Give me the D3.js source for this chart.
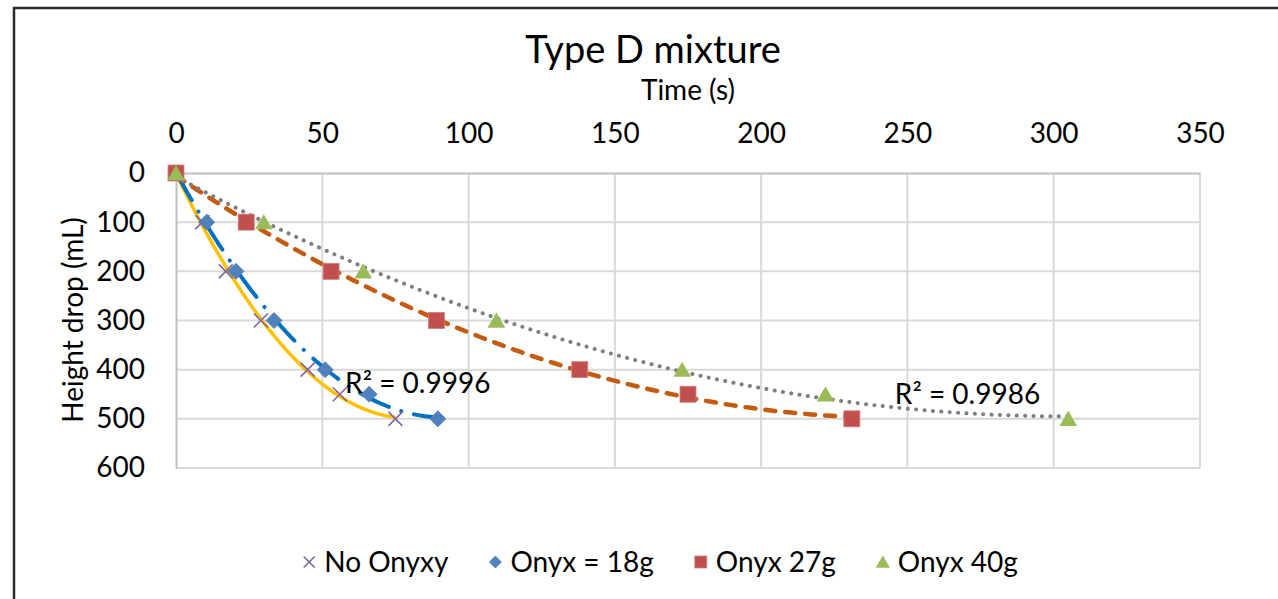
<!DOCTYPE html>
<html>
<head>
<meta charset="utf-8">
<script src="https://cdn.jsdelivr.net/npm/d3@7"></script>
<style>
body { margin: 0; background: #fff; }
svg text { font-family: Lato, "Open Sans", sans-serif; fill: #000; }
</style>
</head>
<body>
<svg id="chart" width="1278" height="599"></svg>
<script>
// values
var heightDrop = [0, 100, 200, 300, 400, 450, 500];
var timeNoOnyx = [0, 9, 17, 29, 45, 56, 75];
var timeOnyx18 = [0, 10.5, 20.5, 33.5, 51, 66, 89.5];
var timeOnyx27 = [0, 24, 53, 89, 138, 175, 231];
var timeOnyx40 = [0, 30, 64, 109.5, 173, 222, 305];
var seriesNames = ["No Onyxy", "Onyx = 18g", "Onyx 27g", "Onyx 40g"];
var xTicks = [0, 50, 100, 150, 200, 250, 300, 350];
var yTicks = [0, 100, 200, 300, 400, 500, 600];
var r2Labels = ["R\u00b2 = 0.9996", "R\u00b2 = 0.9986"];

var series = [
    {name: seriesNames[0], xs: timeNoOnyx, marker: "x", color: "#8064A2",
     trend: {color: "#FFC000", dash: null, width: 3.5}},
    {name: seriesNames[1], xs: timeOnyx18, marker: "diamond", color: "#4F81BD",
     trend: {color: "#0070C0", dash: "32,13,0.1,13", width: 4}},
    {name: seriesNames[2], xs: timeOnyx27, marker: "square", color: "#C0504D",
     trend: {color: "#C55A11", dash: "10,10", width: 4.5}},
    {name: seriesNames[3], xs: timeOnyx40, marker: "triangle", color: "#9BBB59",
     trend: {color: "#7F7F7F", dash: "0.1,8.3", width: 4}}
];

var svg = d3.select("#chart");

var x = d3.scaleLinear().domain([0, 350]).range([176, 1200]);
var y = d3.scaleLinear().domain([0, 600]).range([173, 468]);

// chart area border (only left and top visible)
svg.append("rect")
    .attr("x", 14).attr("y", 8)
    .attr("width", 1300).attr("height", 620)
    .attr("fill", "none")
    .attr("stroke", "#2b2b2b")
    .attr("stroke-width", 2.5);

// gridlines
svg.append("g").selectAll("line")
    .data(xTicks.slice(1))
    .enter().append("line")
    .attr("x1", function(d) { return x(d); })
    .attr("x2", function(d) { return x(d); })
    .attr("y1", y(0)).attr("y2", y(600))
    .attr("stroke", "#d9d9d9").attr("stroke-width", 2);

svg.append("g").selectAll("line")
    .data(yTicks.slice(1))
    .enter().append("line")
    .attr("y1", function(d) { return y(d); })
    .attr("y2", function(d) { return y(d); })
    .attr("x1", x(0)).attr("x2", x(350))
    .attr("stroke", "#d9d9d9").attr("stroke-width", 2);

// axes
var xAxis = svg.append("g")
    .attr("transform", "translate(0," + y(0) + ")")
    .call(d3.axisTop(x).tickValues(xTicks).tickSize(0).tickPadding(30));
var yAxis = svg.append("g")
    .attr("transform", "translate(" + x(0) + ",0)")
    .call(d3.axisLeft(y).tickValues(yTicks).tickSize(0).tickPadding(31));

[xAxis, yAxis].forEach(function(ax) {
    ax.select(".domain").attr("stroke", "#bfbfbf").attr("stroke-width", 2);
    ax.selectAll("text")
        .style("font-family", "Lato, sans-serif")
        .style("font-size", "28px")
        .attr("fill", "#000");
});

// titles
svg.append("text")
    .attr("x", 653).attr("y", 63)
    .attr("text-anchor", "middle")
    .style("font-size", "38px")
    .text("Type D mixture");

svg.append("text")
    .attr("x", 688).attr("y", 100)
    .attr("text-anchor", "middle")
    .style("font-size", "28px")
    .text("Time (s)");

svg.append("text")
    .attr("transform", "translate(83,320) rotate(-90)")
    .attr("text-anchor", "middle")
    .style("font-size", "28px")
    .text("Height drop (mL)");

// quadratic least squares trendline
function polyFit2(xs, ys) {
    var s = [0, 0, 0, 0, 0], t = [0, 0, 0];
    xs.forEach(function(xv, i) {
        var p = 1;
        for (var k = 0; k < 5; k++) {
            s[k] += p;
            if (k < 3) t[k] += p * ys[i];
            p *= xv;
        }
    });
    function det(m) {
        return m[0][0] * (m[1][1] * m[2][2] - m[1][2] * m[2][1])
             - m[0][1] * (m[1][0] * m[2][2] - m[1][2] * m[2][0])
             + m[0][2] * (m[1][0] * m[2][1] - m[1][1] * m[2][0]);
    }
    var M = [[s[0], s[1], s[2]], [s[1], s[2], s[3]], [s[2], s[3], s[4]]];
    var D = det(M);
    var coef = [0, 1, 2].map(function(c) {
        var m = M.map(function(row, r) {
            return row.map(function(v, j) { return j === c ? t[r] : v; });
        });
        return det(m) / D;
    });
    return function(xv) { return coef[0] + coef[1] * xv + coef[2] * xv * xv; };
}

var line = d3.line()
    .x(function(d) { return x(d[0]); })
    .y(function(d) { return y(d[1]); });

var trendG = svg.append("g");
series.forEach(function(s) {
    var f = polyFit2(s.xs, heightDrop);
    var xmax = d3.max(s.xs);
    var pts = d3.range(0, 101).map(function(i) {
        var xv = xmax * i / 100;
        return [xv, f(xv)];
    });
    trendG.append("path")
        .datum(pts)
        .attr("d", line)
        .attr("fill", "none")
        .attr("stroke", s.trend.color)
        .attr("stroke-width", s.trend.width)
        .attr("stroke-linecap", s.trend.dash ? "round" : "butt")
        .attr("stroke-dasharray", s.trend.dash);
});

// markers
function drawMarker(g, type, color, size) {
    var r = size / 2;
    if (type === "x") {
        g.append("path")
            .attr("d", "M" + (-r) + "," + (-r) + "L" + r + "," + r + "M" + r + "," + (-r) + "L" + (-r) + "," + r)
            .attr("stroke", color).attr("stroke-width", 1.6).attr("fill", "none");
    } else if (type === "diamond") {
        g.append("path")
            .attr("d", "M0," + (-r) + "L" + r + ",0L0," + r + "L" + (-r) + ",0Z")
            .attr("fill", color).attr("stroke", "#4a7ab3").attr("stroke-width", 0.8);
    } else if (type === "square") {
        g.append("rect")
            .attr("x", -r).attr("y", -r).attr("width", size).attr("height", size)
            .attr("fill", color).attr("stroke", "#d47f7c").attr("stroke-width", 0.8);
    } else {
        g.append("path")
            .attr("d", "M0," + (-r) + "L" + (r * 1.1) + "," + (r * 0.9) + "L" + (-r * 1.1) + "," + (r * 0.9) + "Z")
            .attr("fill", color);
    }
}

var markerSize = {x: 14, diamond: 16, square: 16, triangle: 16};
series.forEach(function(s) {
    var g = svg.append("g");
    s.xs.forEach(function(xv, i) {
        var mg = g.append("g")
            .attr("transform", "translate(" + x(xv) + "," + y(heightDrop[i]) + ")");
        drawMarker(mg, s.marker, s.color, markerSize[s.marker]);
    });
});

// R squared labels
svg.append("text")
    .attr("x", x(57.8)).attr("y", y(447))
    .style("font-size", "28px")
    .text(r2Labels[0]);
svg.append("text")
    .attr("x", x(245.7)).attr("y", y(470))
    .style("font-size", "28px")
    .text(r2Labels[1]);

// legend
var legend = svg.append("g");
var legendSize = {x: 11, diamond: 12, square: 12, triangle: 13};
var lx = 0;
series.forEach(function(s, i) {
    var item = legend.append("g").attr("transform", "translate(" + lx + ",0)");
    var mg = item.append("g").attr("transform", "translate(7,0)");
    drawMarker(mg, s.marker, s.color, legendSize[s.marker]);
    var t = item.append("text")
        .attr("x", 22).attr("y", 10)
        .style("font-size", "28px")
        .text(s.name);
    lx += 22 + t.node().getComputedTextLength() + 40;
});
var legendW = lx - 40;
legend.attr("transform", "translate(" + (660 - legendW / 2) + ",562)");
</script>
</body>
</html>
